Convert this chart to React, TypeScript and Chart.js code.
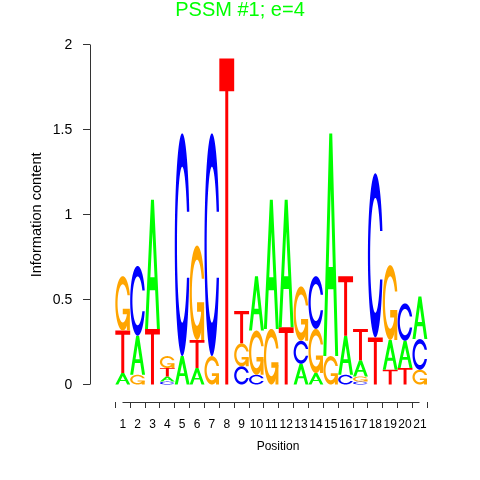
import React, { useEffect, useRef } from "react";
import { Chart, registerables } from "chart.js";

Chart.register(...registerables);

// ---- data ----
const titleText = "PSSM #1; e=4";
const xAxisTitle = "Position";
const yAxisTitle = "Information content";

const positions = [1, 2, 3, 4, 5, 6, 7, 8, 9, 10, 11, 12, 13, 14, 15, 16, 17, 18, 19, 20, 21];
const xTickLabels = ["1", "2", "3", "4", "5", "6", "7", "8", "9", "10", "11", "12", "13", "14", "15", "16", "17", "18", "19", "20", "21"];
const yTickValues = [0, 0.5, 1, 1.5, 2];
const yTickLabels = ["0", "0.5", "1", "1.5", "2"];

// information content (bits) contributed by each base at each position
const heightA = [0.07, 0.23, 0.76, 0.03, 0.17, 0.1, 0, 0, 0, 0.32, 0.76, 0.75, 0.125, 0.07, 1.31, 0.23, 0.095, 0, 0.175, 0.16, 0.25];
const heightC = [0, 0.41, 0, 0.02, 1.31, 0, 1.31, 0, 0.11, 0.06, 0, 0, 0.135, 0.31, 0, 0.06, 0.02, 0.965, 0, 0.22, 0.18];
const heightG = [0.32, 0.06, 0, 0.07, 0, 0.555, 0.17, 0, 0.135, 0.26, 0.33, 0, 0.32, 0.26, 0.17, 0, 0.03, 0, 0.44, 0, 0.09];
const heightT = [0.25, 0, 0.33, 0.05, 0, 0.165, 0, 1.92, 0.19, 0, 0, 0.34, 0, 0, 0, 0.35, 0.185, 0.28, 0.09, 0.1, 0];

const letterColors: Record<string, string> = { A: "#00FF00", C: "#0000FF", G: "#FFA500", T: "#FF0000" };

const FONT = "'Liberation Sans', Arial, Helvetica, sans-serif";

// ---- glyph geometry (unit square, y up) ----
function seq(a: number, b: number, n: number) {
  const out: number[] = [];
  for (let i = 0; i < n; i++) out.push(a + ((b - a) * i) / (n - 1));
  return out;
}
function buildC() {
  const a1 = seq(0.3 + Math.PI / 2, Math.PI, 100);
  const a2 = seq(Math.PI, 1.5 * Math.PI, 100);
  const xl1 = a1.map((a) => 0.5 + 0.5 * Math.sin(a));
  const yl1 = a1.map((a) => 0.5 + 0.5 * Math.cos(a));
  const xl2 = a2.map((a) => 0.5 + 0.5 * Math.sin(a));
  const yl2 = a2.map((a) => 0.5 + 0.5 * Math.cos(a));
  const xl = [...xl1, ...xl2];
  const yl = [...yl1, ...yl2];
  const xo = [...xl, ...[...xl].reverse()];
  const yo = [...yl, ...[...yl].reverse().map((v) => 1 - v)];
  const maxY = Math.max(...yl1);
  let xi1 = a1.map((a) => 0.5 + 0.35 * Math.sin(a));
  let yi1 = a1.map((a) => 0.5 + 0.35 * Math.cos(a));
  const keep = yi1.map((v) => v <= maxY);
  xi1 = xi1.filter((_, i) => keep[i]);
  yi1 = yi1.filter((_, i) => keep[i]);
  yi1[0] = maxY;
  const xi2 = a2.map((a) => 0.5 + 0.35 * Math.sin(a));
  const yi2 = a2.map((a) => 0.5 + 0.35 * Math.cos(a));
  const xi = [...xi1, ...xi2];
  const yi = [...yi1, ...yi2];
  const x1 = [...xi, ...[...xi].reverse()];
  const y1 = [...yi, ...[...yi].reverse().map((v) => 1 - v)];
  const x = [...xo, ...[...x1].reverse()];
  const y = [...yo, ...[...y1].reverse()];
  return { x, y, r1: Math.max(...xl1) };
}
const CPOLY = buildC();
const TPOLY = { x: [0, 1, 1, 0.6, 0.6, 0.4, 0.4, 0], y: [1, 1, 0.9, 0.9, 0, 0, 0.9, 0.9] };
const APOLY = { x: [0, 0.4, 0.6, 1, 0.8, 0.68, 0.32, 0.2, 0], y: [0, 1, 1, 0, 0, 0.3, 0.3, 0, 0] };
const AHOLE = { x: [0.36, 0.5, 0.64, 0.36], y: [0.4, 0.75, 0.4, 0.4] };
const GADD = {
  x: [CPOLY.r1, 0.5, 0.5, CPOLY.r1 - 0.2, CPOLY.r1 - 0.2, CPOLY.r1, CPOLY.r1],
  y: [0.4, 0.4, 0.3, 0.3, 0, 0, 0.4],
};

function drawLetter(ctx: CanvasRenderingContext2D, letter: string, left: number, top: number, w: number, h: number) {
  const X = (u: number) => left + u * w;
  const Y = (v: number) => top + h - v * h;
  const poly = (p: { x: number[]; y: number[] }) => {
    ctx.moveTo(X(p.x[0]), Y(p.y[0]));
    for (let i = 1; i < p.x.length; i++) ctx.lineTo(X(p.x[i]), Y(p.y[i]));
    ctx.closePath();
  };
  ctx.fillStyle = letterColors[letter];
  if (letter === "A") {
    ctx.beginPath();
    poly(APOLY);
    poly(AHOLE);
    ctx.fill("evenodd");
  } else if (letter === "T") {
    ctx.beginPath();
    poly(TPOLY);
    ctx.fill();
  } else if (letter === "C") {
    ctx.beginPath();
    poly(CPOLY);
    ctx.fill();
  } else if (letter === "G") {
    ctx.beginPath();
    poly(CPOLY);
    ctx.fill();
    ctx.beginPath();
    poly(GADD);
    ctx.fill();
  }
}

const logoPlugin = {
  id: "logoLetters",
  afterDatasetsDraw(chart: any) {
    const ctx = chart.ctx as CanvasRenderingContext2D;
    ctx.save();
    chart.data.datasets.forEach((ds: any, di: number) => {
      const meta = chart.getDatasetMeta(di);
      meta.data.forEach((el: any, i: number) => {
        const letter = ds.letters[i];
        if (!letter) return;
        const { x, y, base, width } = el.getProps(["x", "y", "base", "width"], true);
        const top = Math.min(y, base);
        const h = Math.abs(base - y);
        if (h < 0.2) return;
        drawLetter(ctx, letter, x - width / 2, top, width, h);
      });
    });
    ctx.restore();
  },
};

const axisLinePlugin = {
  id: "rAxisLines",
  afterDraw(chart: any) {
    const ctx = chart.ctx as CanvasRenderingContext2D;
    const xs = chart.scales.x;
    const ys = chart.scales.y;
    const area = chart.chartArea;
    const align = (p: number) => Math.round(p - 0.5) + 0.5;
    ctx.save();
    ctx.strokeStyle = "#333";
    ctx.lineWidth = 1;
    ctx.beginPath();
    const yb = align(area.bottom);
    ctx.moveTo(align(xs.getPixelForValue(positions[0])), yb);
    ctx.lineTo(align(xs.getPixelForValue(positions[positions.length - 1])), yb);
    const xl = align(area.left);
    ctx.moveTo(xl, align(ys.getPixelForValue(yTickValues[0])));
    ctx.lineTo(xl, align(ys.getPixelForValue(yTickValues[yTickValues.length - 1])));
    ctx.stroke();
    ctx.restore();
  },
};

function buildDatasets() {
  const stacks = positions.map((_, i) =>
    [
      { l: "A", h: heightA[i] },
      { l: "C", h: heightC[i] },
      { l: "G", h: heightG[i] },
      { l: "T", h: heightT[i] },
    ]
      .filter((e) => e.h > 0)
      .sort((a, b) => a.h - b.h)
  );
  const layers = Math.max(...stacks.map((s) => s.length));
  const datasets: any[] = [];
  for (let k = 0; k < layers; k++) {
    datasets.push({
      label: "layer" + k,
      data: positions.map((p, i) => ({ x: p, y: stacks[i][k] ? stacks[i][k].h : 0 })),
      letters: positions.map((_, i) => (stacks[i][k] ? stacks[i][k].l : null)),
      backgroundColor: "rgba(0,0,0,0)",
      borderWidth: 0,
      barPercentage: 1,
      categoryPercentage: 1,
    });
  }
  return datasets;
}

export default function App() {
  const canvasRef = useRef<HTMLCanvasElement | null>(null);

  useEffect(() => {
    document.body.style.margin = "0";
    const canvas = canvasRef.current;
    if (!canvas) return;
    const chart = new Chart(canvas, {
      type: "bar",
      data: { datasets: buildDatasets() },
      plugins: [logoPlugin, axisLinePlugin],
      options: {
        responsive: false,
        animation: false,
        events: [],
        layout: { padding: { left: 14, right: 14, top: 0, bottom: 18 } },
        plugins: {
          legend: { display: false },
          tooltip: { enabled: false },
          title: {
            display: true,
            text: titleText,
            color: "#00FF00",
            font: { family: FONT, size: 20, weight: "normal", lineHeight: 1 },
            padding: { top: 0, bottom: 7.8 },
          },
        },
        scales: {
          x: {
            type: "linear",
            stacked: true,
            min: -0.6026,
            max: 23.5,
            afterBuildTicks: (s: any) => {
              s.ticks = positions.map((v) => ({ value: v }));
            },
            afterFit: (s: any) => {
              s.height = 60;
            },
            ticks: {
              autoSkip: false,
              maxRotation: 0,
              minRotation: 0,
              padding: 9.8,
              color: "#000",
              font: { family: FONT, size: 12 },
              callback: (_v: any, i: number) => xTickLabels[i],
            },
            grid: { drawOnChartArea: false, drawTicks: true, tickLength: 6, color: "#333", lineWidth: 1 },
            border: { display: false },
            title: {
              display: true,
              text: xAxisTitle,
              color: "#000",
              font: { family: FONT, size: 12 },
              padding: { top: 0, bottom: 7.8 },
            },
          },
          y: {
            type: "linear",
            stacked: true,
            min: -0.1,
            max: 2.101,
            afterBuildTicks: (s: any) => {
              s.ticks = yTickValues.map((v) => ({ value: v }));
            },
            afterFit: (s: any) => {
              s.width = 76;
            },
            ticks: {
              padding: 10.7,
              color: "#000",
              font: { family: FONT, size: 14 },
              callback: (_v: any, i: number) => yTickLabels[i],
            },
            grid: { drawOnChartArea: false, drawTicks: true, tickLength: 7, color: "#333", lineWidth: 1 },
            border: { display: false },
            title: {
              display: true,
              text: yAxisTitle,
              color: "#000",
              font: { family: FONT, size: 14.6 },
              padding: { top: 14.7, bottom: 0 },
            },
          },
        },
      } as any,
    });
    return () => chart.destroy();
  }, []);

  return (
    <div style={{ position: "absolute", left: 0, top: 0, width: 480, height: 480 }}>
      <canvas ref={canvasRef} width={480} height={480} />
    </div>
  );
}
